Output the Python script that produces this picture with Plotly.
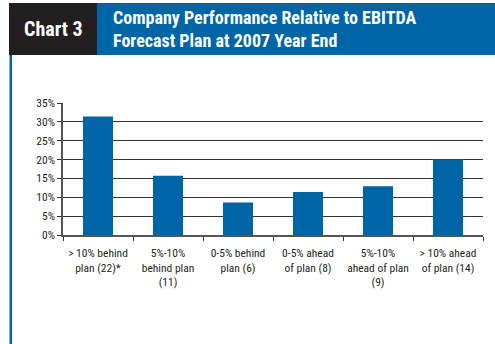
import plotly.graph_objects as go

categories = ["> 10% behind<br>plan (22)*", "5%-10%<br>behind plan<br>(11)", "0-5% behind<br>plan (6)",
              "0-5% ahead<br>of plan (8)", "5%-10%<br>ahead of plan<br>(9)", "> 10% ahead<br>of plan (14)"]
values = [31.4, 15.7, 8.6, 11.4, 12.9, 20.0]
y_ticks = [0, 5, 10, 15, 20, 25, 30, 35]
y_tick_labels = ["0%", "5%", "10%", "15%", "20%", "25%", "30%", "35%"]

W, H = 495, 344
L, R, T, B = 63, 12, 103, 109
PW = W - L - R
PH = H - T - B
FONT = "Roboto Condensed, Liberation Sans Narrow, Roboto, sans-serif"
BLUE = "#0065A6"

def px(x):
    return (x - L) / PW

def py(y):
    return (H - B - y) / PH

fig = go.Figure(go.Bar(x=categories, y=values, marker_color=BLUE,
                       marker_line_width=0, width=0.43))

shapes = [
    dict(type="rect", xref="paper", yref="paper", x0=px(9), x1=px(495), y0=py(55), y1=py(3),
         fillcolor=BLUE, line_width=0, layer="above"),
    dict(type="rect", xref="paper", yref="paper", x0=px(9), x1=px(97), y0=py(55), y1=py(3),
         fillcolor="#231F20", line_width=0, layer="above"),
    dict(type="rect", xref="paper", yref="paper", x0=px(9.5), x1=px(12), y0=py(344), y1=py(55),
         fillcolor=BLUE, line_width=0, layer="above"),
]

annotations = [
    dict(text="<b>Chart 3</b>", xref="paper", yref="paper", x=px(53), y=py(29),
         xanchor="center", yanchor="middle", showarrow=False,
         font=dict(family=FONT, size=20, color="white")),
    dict(text="<b>Company Performance Relative to EBITDA<br>Forecast Plan at 2007 Year End</b>",
         xref="paper", yref="paper", x=px(111), y=py(29),
         xanchor="left", yanchor="middle", align="left", showarrow=False,
         font=dict(family=FONT, size=18, color="white")),
]

fig.update_layout(
    width=W, height=H, autosize=False,
    margin=dict(l=L, r=R, t=T, b=B, pad=0, autoexpand=False),
    paper_bgcolor="white", plot_bgcolor="white",
    showlegend=False,
    shapes=shapes, annotations=annotations,
    font=dict(family=FONT, size=11, color="#231F20"),
    xaxis=dict(showline=True, linecolor="#555", linewidth=1.5, automargin=False,
               ticks="outside", tickson="boundaries", ticklen=4, tickcolor="#333",
               ticklabelstandoff=6,
               tickangle=0, tickfont=dict(size=11.5), showgrid=False),
    yaxis=dict(range=[0, 35], tickvals=y_ticks, ticktext=y_tick_labels, automargin=False,
               showline=True, linecolor="#555", linewidth=1.5,
               ticks="outside", ticklen=4, tickcolor="#333",
               showgrid=True, gridcolor="#333", gridwidth=1.4,
               zeroline=False, tickfont=dict(size=11.5)),
)

fig.write_html("out.html")
